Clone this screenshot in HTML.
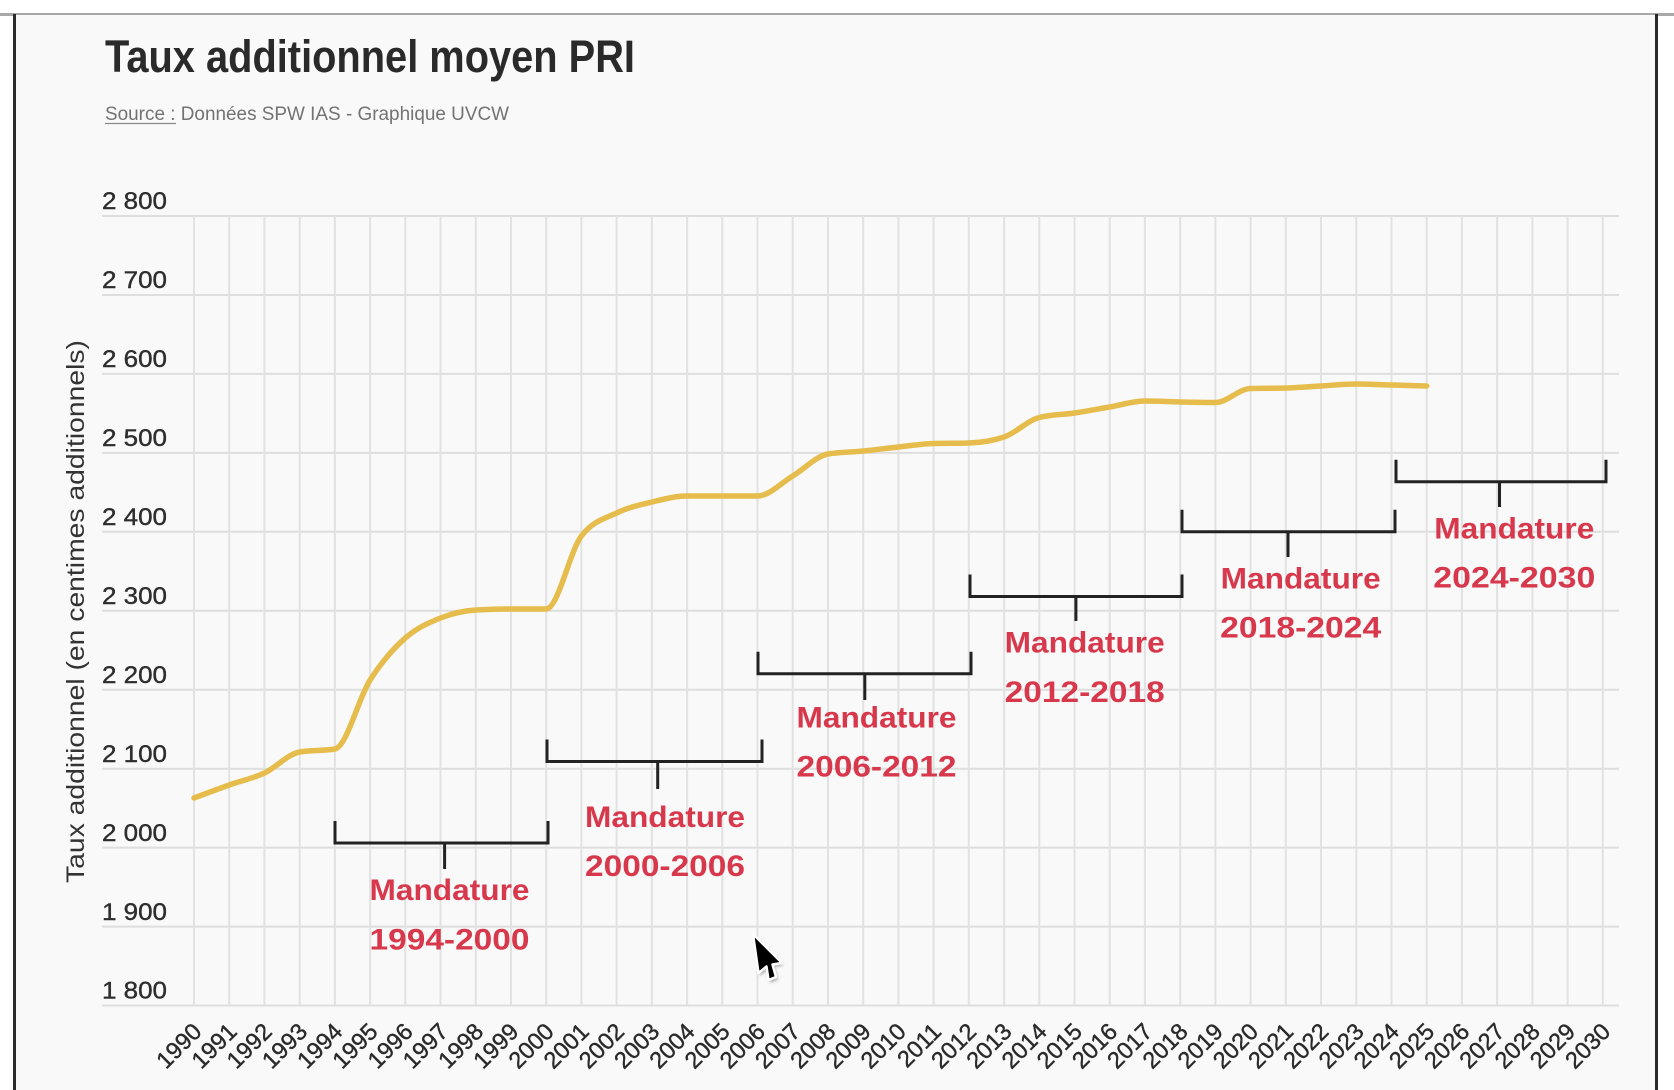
<!DOCTYPE html>
<html>
<head>
<meta charset="utf-8">
<style>
html,body{margin:0;padding:0;background:#fff;}
svg{display:block;}
text{font-family:"Liberation Sans",Arial,sans-serif;}
</style>
</head>
<body>
<svg width="1674" height="1090" viewBox="0 0 1674 1090" xmlns="http://www.w3.org/2000/svg">
<defs>
<filter id="sh" x="-50%" y="-50%" width="200%" height="200%">
<feGaussianBlur stdDeviation="1.5"/>
</filter>
</defs>
<!-- outer frame -->
<rect x="0" y="0" width="1674" height="1090" fill="#ffffff"/>
<rect x="0" y="13" width="1674" height="3" fill="#a8a8a8"/>
<rect x="15" y="15" width="1641" height="1075" fill="#f9f9f9"/>
<rect x="13" y="14" width="3" height="1076" fill="#2b2b2b"/>
<rect x="1655" y="14" width="3" height="1076" fill="#2b2b2b"/>

<!-- title -->
<text x="105" y="72" font-size="45" font-weight="bold" fill="#2a2a2a" textLength="530" lengthAdjust="spacingAndGlyphs">Taux additionnel moyen PRI</text>
<text x="105" y="120" font-size="19" fill="#737373" textLength="404" lengthAdjust="spacingAndGlyphs">Source : Données SPW IAS - Graphique UVCW</text>
<line x1="105" y1="123.5" x2="176" y2="123.5" stroke="#8a8a8a" stroke-width="1.2"/>

<!-- horizontal gridlines -->
<g stroke="#dedede" stroke-width="2">
<line x1="102" y1="1005.5" x2="1619" y2="1005.5"/>
<line x1="102" y1="926.6" x2="1619" y2="926.6"/>
<line x1="102" y1="847.6" x2="1619" y2="847.6"/>
<line x1="102" y1="768.7" x2="1619" y2="768.7"/>
<line x1="102" y1="689.7" x2="1619" y2="689.7"/>
<line x1="102" y1="610.8" x2="1619" y2="610.8"/>
<line x1="102" y1="531.8" x2="1619" y2="531.8"/>
<line x1="102" y1="452.9" x2="1619" y2="452.9"/>
<line x1="102" y1="373.9" x2="1619" y2="373.9"/>
<line x1="102" y1="295" x2="1619" y2="295"/>
<line x1="102" y1="216" x2="1619" y2="216"/>
</g>
<!-- vertical gridlines -->
<g stroke="#e2e2e2" stroke-width="2">
<line x1="194" y1="216" x2="194" y2="1005"/>
<line x1="229.2" y1="216" x2="229.2" y2="1005"/>
<line x1="264.4" y1="216" x2="264.4" y2="1005"/>
<line x1="299.7" y1="216" x2="299.7" y2="1005"/>
<line x1="334.9" y1="216" x2="334.9" y2="1005"/>
<line x1="370.1" y1="216" x2="370.1" y2="1005"/>
<line x1="405.3" y1="216" x2="405.3" y2="1005"/>
<line x1="440.5" y1="216" x2="440.5" y2="1005"/>
<line x1="475.8" y1="216" x2="475.8" y2="1005"/>
<line x1="511" y1="216" x2="511" y2="1005"/>
<line x1="546.2" y1="216" x2="546.2" y2="1005"/>
<line x1="581.4" y1="216" x2="581.4" y2="1005"/>
<line x1="616.6" y1="216" x2="616.6" y2="1005"/>
<line x1="651.9" y1="216" x2="651.9" y2="1005"/>
<line x1="687.1" y1="216" x2="687.1" y2="1005"/>
<line x1="722.3" y1="216" x2="722.3" y2="1005"/>
<line x1="757.5" y1="216" x2="757.5" y2="1005"/>
<line x1="792.7" y1="216" x2="792.7" y2="1005"/>
<line x1="828" y1="216" x2="828" y2="1005"/>
<line x1="863.2" y1="216" x2="863.2" y2="1005"/>
<line x1="898.4" y1="216" x2="898.4" y2="1005"/>
<line x1="933.6" y1="216" x2="933.6" y2="1005"/>
<line x1="968.8" y1="216" x2="968.8" y2="1005"/>
<line x1="1004.1" y1="216" x2="1004.1" y2="1005"/>
<line x1="1039.3" y1="216" x2="1039.3" y2="1005"/>
<line x1="1074.5" y1="216" x2="1074.5" y2="1005"/>
<line x1="1109.7" y1="216" x2="1109.7" y2="1005"/>
<line x1="1144.9" y1="216" x2="1144.9" y2="1005"/>
<line x1="1180.2" y1="216" x2="1180.2" y2="1005"/>
<line x1="1215.4" y1="216" x2="1215.4" y2="1005"/>
<line x1="1250.6" y1="216" x2="1250.6" y2="1005"/>
<line x1="1285.8" y1="216" x2="1285.8" y2="1005"/>
<line x1="1321" y1="216" x2="1321" y2="1005"/>
<line x1="1356.3" y1="216" x2="1356.3" y2="1005"/>
<line x1="1391.5" y1="216" x2="1391.5" y2="1005"/>
<line x1="1426.7" y1="216" x2="1426.7" y2="1005"/>
<line x1="1461.9" y1="216" x2="1461.9" y2="1005"/>
<line x1="1497.1" y1="216" x2="1497.1" y2="1005"/>
<line x1="1532.4" y1="216" x2="1532.4" y2="1005"/>
<line x1="1567.6" y1="216" x2="1567.6" y2="1005"/>
<line x1="1602.8" y1="216" x2="1602.8" y2="1005"/>
</g>

<!-- y tick labels -->
<g font-size="24" fill="#2e2e2e" stroke="#2e2e2e" stroke-width="0.4">
<text x="102" y="209" textLength="65" lengthAdjust="spacingAndGlyphs">2 800</text>
<text x="102" y="288" textLength="65" lengthAdjust="spacingAndGlyphs">2 700</text>
<text x="102" y="367" textLength="65" lengthAdjust="spacingAndGlyphs">2 600</text>
<text x="102" y="446" textLength="65" lengthAdjust="spacingAndGlyphs">2 500</text>
<text x="102" y="525" textLength="65" lengthAdjust="spacingAndGlyphs">2 400</text>
<text x="102" y="604" textLength="65" lengthAdjust="spacingAndGlyphs">2 300</text>
<text x="102" y="683" textLength="65" lengthAdjust="spacingAndGlyphs">2 200</text>
<text x="102" y="762" textLength="65" lengthAdjust="spacingAndGlyphs">2 100</text>
<text x="102" y="841" textLength="65" lengthAdjust="spacingAndGlyphs">2 000</text>
<text x="102" y="920" textLength="65" lengthAdjust="spacingAndGlyphs">1 900</text>
<text x="102" y="998.5" textLength="65" lengthAdjust="spacingAndGlyphs">1 800</text>
</g>

<!-- y axis title -->
<text transform="translate(84,611.5) rotate(-90)" text-anchor="middle" font-size="25" fill="#333333" textLength="543" lengthAdjust="spacingAndGlyphs">Taux additionnel (en centimes additionnels)</text>

<!-- x tick labels -->
<g font-size="23.5" fill="#2a2a2a" stroke="#2a2a2a" stroke-width="0.4" text-anchor="end">
<text transform="translate(203,1033) rotate(-45)">1990</text>
<text transform="translate(238.2,1033) rotate(-45)">1991</text>
<text transform="translate(273.4,1033) rotate(-45)">1992</text>
<text transform="translate(308.7,1033) rotate(-45)">1993</text>
<text transform="translate(343.9,1033) rotate(-45)">1994</text>
<text transform="translate(379.1,1033) rotate(-45)">1995</text>
<text transform="translate(414.3,1033) rotate(-45)">1996</text>
<text transform="translate(449.5,1033) rotate(-45)">1997</text>
<text transform="translate(484.8,1033) rotate(-45)">1998</text>
<text transform="translate(520,1033) rotate(-45)">1999</text>
<text transform="translate(555.2,1033) rotate(-45)">2000</text>
<text transform="translate(590.4,1033) rotate(-45)">2001</text>
<text transform="translate(625.6,1033) rotate(-45)">2002</text>
<text transform="translate(660.9,1033) rotate(-45)">2003</text>
<text transform="translate(696.1,1033) rotate(-45)">2004</text>
<text transform="translate(731.3,1033) rotate(-45)">2005</text>
<text transform="translate(766.5,1033) rotate(-45)">2006</text>
<text transform="translate(801.7,1033) rotate(-45)">2007</text>
<text transform="translate(837,1033) rotate(-45)">2008</text>
<text transform="translate(872.2,1033) rotate(-45)">2009</text>
<text transform="translate(907.4,1033) rotate(-45)">2010</text>
<text transform="translate(942.6,1033) rotate(-45)">2011</text>
<text transform="translate(977.8,1033) rotate(-45)">2012</text>
<text transform="translate(1013.1,1033) rotate(-45)">2013</text>
<text transform="translate(1048.3,1033) rotate(-45)">2014</text>
<text transform="translate(1083.5,1033) rotate(-45)">2015</text>
<text transform="translate(1118.7,1033) rotate(-45)">2016</text>
<text transform="translate(1153.9,1033) rotate(-45)">2017</text>
<text transform="translate(1189.2,1033) rotate(-45)">2018</text>
<text transform="translate(1224.4,1033) rotate(-45)">2019</text>
<text transform="translate(1259.6,1033) rotate(-45)">2020</text>
<text transform="translate(1294.8,1033) rotate(-45)">2021</text>
<text transform="translate(1330,1033) rotate(-45)">2022</text>
<text transform="translate(1365.3,1033) rotate(-45)">2023</text>
<text transform="translate(1400.5,1033) rotate(-45)">2024</text>
<text transform="translate(1435.7,1033) rotate(-45)">2025</text>
<text transform="translate(1470.9,1033) rotate(-45)">2026</text>
<text transform="translate(1506.1,1033) rotate(-45)">2027</text>
<text transform="translate(1541.4,1033) rotate(-45)">2028</text>
<text transform="translate(1576.6,1033) rotate(-45)">2029</text>
<text transform="translate(1611.8,1033) rotate(-45)">2030</text>
</g>

<!-- data line -->
<path fill="none" stroke="#e6bd4c" stroke-width="5.5" stroke-linecap="round" stroke-linejoin="round" d="M194,798
C205.74,793.58 217.48,789.17 229.22,785
C240.96,780.83 252.7,778.5 264.44,773
C276.18,767.5 287.92,754 299.66,752
C311.4,750 323.14,751 334.88,749
C346.62,747 358.36,698.5 370.1,680
C381.84,661.5 393.58,648.33 405.32,638
C417.06,627.67 428.8,622.67 440.54,618
C452.28,613.33 464.02,610.67 475.76,610
C487.5,609.33 499.24,609 510.98,609
C522.72,609 534.46,609 546.2,609
C557.94,609 569.68,551.33 581.42,536
C593.16,520.67 604.9,518.67 616.64,513
C628.38,507.33 640.12,504.83 651.86,502
C663.6,499.17 675.34,496 687.08,496
C698.82,496 710.56,496 722.3,496
C734.04,496 745.78,496 757.52,496
C769.26,496 781,483 792.74,476
C804.48,469 816.22,456 827.96,454
C839.7,452 851.44,452.17 863.18,451
C874.92,449.83 886.66,448.25 898.4,447
C910.14,445.75 921.88,443.83 933.62,443.5
C945.36,443.17 957.1,443.33 968.84,443
C980.58,442.67 992.32,441 1004.06,437
C1015.8,433 1027.54,420.5 1039.28,417.5
C1051.02,414.5 1062.76,414.75 1074.5,413
C1086.24,411.25 1097.98,409 1109.72,407
C1121.46,405 1133.2,401 1144.94,401
C1156.68,401 1168.42,401.75 1180.16,402
C1191.9,402.25 1203.64,402.5 1215.38,402.5
C1227.12,402.5 1238.86,388.83 1250.6,388.5
C1262.34,388.17 1274.08,388.33 1285.82,388
C1297.56,387.67 1309.3,386.67 1321.04,386
C1332.78,385.33 1344.52,384 1356.26,384
C1368,384 1379.74,384.67 1391.48,385
C1403.22,385.33 1414.96,385.67 1426.7,386"/>

<!-- brackets -->
<g fill="none" stroke="#222222" stroke-width="3">
<path d="M335,821 V843 H548 V821 M444.6,843 V869"/>
<path d="M547,739.5 V761.5 H762 V739.5 M657.7,761.5 V789"/>
<path d="M758,651.7 V673.7 H971 V651.7 M864.8,673.7 V700"/>
<path d="M970,574.5 V596.5 H1182 V574.5 M1075.9,596.5 V621"/>
<path d="M1182,509.7 V531.7 H1395 V509.7 M1288,531.7 V557"/>
<path d="M1396,459.7 V481.7 H1606 V459.7 M1499.5,481.7 V507"/>
</g>

<!-- bracket labels -->
<g font-size="30" font-weight="bold" fill="#d7384b" text-anchor="middle">
<text x="449.5" y="900" textLength="160" lengthAdjust="spacingAndGlyphs">Mandature</text>
<text x="449.5" y="949.5" textLength="160" lengthAdjust="spacingAndGlyphs">1994-2000</text>
<text x="665" y="827" textLength="160" lengthAdjust="spacingAndGlyphs">Mandature</text>
<text x="665" y="876" textLength="160" lengthAdjust="spacingAndGlyphs">2000-2006</text>
<text x="876.5" y="727.5" textLength="160" lengthAdjust="spacingAndGlyphs">Mandature</text>
<text x="876.5" y="776.5" textLength="160" lengthAdjust="spacingAndGlyphs">2006-2012</text>
<text x="1084.7" y="652.7" textLength="160" lengthAdjust="spacingAndGlyphs">Mandature</text>
<text x="1084.7" y="701.8" textLength="160" lengthAdjust="spacingAndGlyphs">2012-2018</text>
<text x="1300.7" y="588.5" textLength="160" lengthAdjust="spacingAndGlyphs">Mandature</text>
<text x="1300.7" y="637.3" textLength="161" lengthAdjust="spacingAndGlyphs">2018-2024</text>
<text x="1514.3" y="538.3" textLength="160" lengthAdjust="spacingAndGlyphs">Mandature</text>
<text x="1514.3" y="587.3" textLength="162" lengthAdjust="spacingAndGlyphs">2024-2030</text>
</g>

<!-- mouse cursor -->
<polygon points="754.5,936.5 760,975.5 768,969 770,982.5 778,979.5 774,966.5 783.5,965.5" fill="#000" opacity="0.35" filter="url(#sh)"/>
<polygon points="753,934 758.5,973 766.5,966.5 768.5,980 776,977 772.5,964.5 782,963" fill="#000" stroke="#fff" stroke-width="2.5" stroke-linejoin="round"/>
</svg>
</body>
</html>
